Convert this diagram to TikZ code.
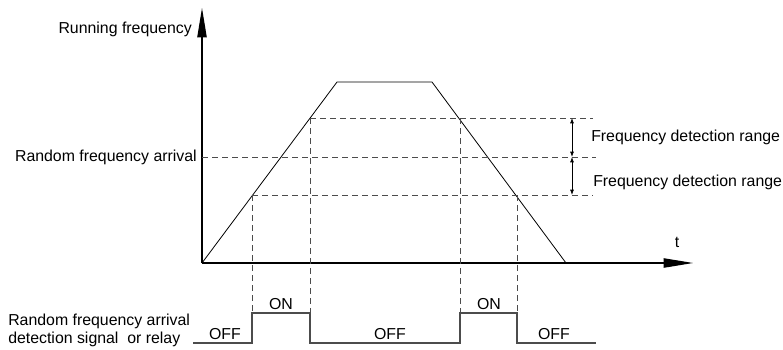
\documentclass[tikz,border=0pt]{standalone}
\usepackage{fontspec}
\setmainfont{Liberation Sans}
\usetikzlibrary{arrows.meta}

\begin{document}
\begin{tikzpicture}[x=0.75pt,y=-0.75pt,
  lbl/.style={font=\fontsize{11.9}{13.5}\selectfont, inner sep=0pt},
  guide/.style={black!70, dash pattern=on 4.5pt off 3pt, line width=0.6pt},
  axis/.style={line width=0.9pt, -{Triangle[length=22pt,width=7pt]}},
  ramp/.style={line width=0.6pt},
  pulse/.style={black!70, line width=0.8pt},
  rangearr/.style={line width=0.6pt, {Latex[length=4pt,width=3pt]}-{Latex[length=4pt,width=3pt]}}]
\useasboundingbox (0,0) rectangle (783,350);

%axes
  \coordinate (O) at (202,263);
  \coordinate (Ytop) at (202,8);
  \coordinate (Xend) at (693,263);
  \draw[axis] (O) -- (Ytop);
  \draw[axis] (O) -- (Xend);
  \node[lbl, anchor=east] (ylab) at (192,29) {Running frequency};
  \node[lbl] (tlab) at (677,242) {t};

%ramp
  \coordinate (R1) at (337,82);
  \coordinate (R2) at (432,82);
  \coordinate (R3) at (566,263);
  \draw[ramp] (O) -- (R1) -- (R2) -- (R3);

%levels
  \coordinate (HiA) at (310,118);
  \coordinate (HiB) at (460,118);
  \coordinate (HiE) at (593,118);
  \coordinate (MidA) at (202,157);
  \coordinate (MidE) at (596,157);
  \coordinate (LoA) at (252,195);
  \coordinate (LoB) at (517,195);
  \coordinate (LoE) at (593,195);
  \coordinate (Son) at (202,313);
  \draw[guide] (HiA) -- (HiE);
  \draw[guide] (MidA) -- (MidE);
  \draw[guide] (LoA) -- (LoE);
  \draw[guide] (LoA) -- (LoA |- Son);
  \draw[guide] (HiA) -- (HiA |- Son);
  \draw[guide] (HiB) -- (HiB |- Son);
  \draw[guide] (LoB) -- (LoB |- Son);
  \node[lbl, anchor=east] (midlab) at (197,157) {Random frequency arrival};

%range
  \coordinate (Rg1) at (572,118);
  \coordinate (Rg2) at (572,157);
  \coordinate (Rg3) at (572,195);
  \draw[rangearr] (Rg1) -- (Rg2);
  \draw[rangearr] (Rg2) -- (Rg3);
  \node[lbl, anchor=west] (rng1) at (591,137) {Frequency detection range};
  \node[lbl, anchor=west] (rng2) at (593,182) {Frequency detection range};

%signal
  \coordinate (S0) at (193,343);
  \coordinate (S1) at (596,343);
  \draw[pulse] (S0) -- (LoA |- S0) -- (LoA |- Son) -- (HiA |- Son) -- (HiA |- S0)
    -- (HiB |- S0) -- (HiB |- Son) -- (LoB |- Son) -- (LoB |- S0) -- (S1);
  \node[lbl, anchor=west, align=left] (siglab) at (8,330) {Random frequency arrival\\detection signal\ \ or relay};
  \node[lbl] (on1) at (281,304) {ON};
  \node[lbl] (on2) at (489,304) {ON};
  \node[lbl] (off1) at (225,334) {OFF};
  \node[lbl] (off2) at (390,334) {OFF};
  \node[lbl] (off3) at (554,334) {OFF};

\end{tikzpicture}
\end{document}
